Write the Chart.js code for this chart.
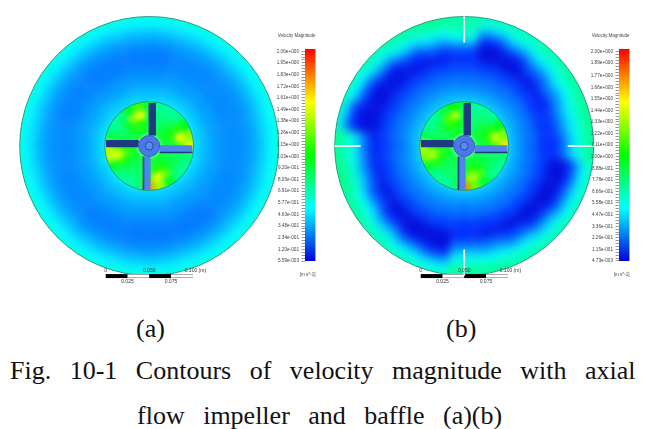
<!DOCTYPE html>
<html>
<head>
<meta charset="utf-8">
<style>
  html, body { margin: 0; padding: 0; background: #fff; width: 656px; height: 429px; overflow: hidden; }
  #page { position: relative; width: 656px; height: 429px; }
  canvas { position: absolute; display: block; }
  .clip { position: absolute; overflow: hidden; }
  .soft { filter: blur(0.4px); }
  .cap { position: absolute; font-family: "Liberation Serif", serif; font-size: 26px; line-height: 30px; color: #111; white-space: pre; }
</style>
<script src="https://cdn.jsdelivr.net/npm/chart.js@4"></script>
</head>
<body>
<div id="page">
  <div class="cap" style="left:136px;top:314px">(a)</div>
  <div class="cap" style="left:446px;top:314px">(b)</div>
  <div class="cap" style="left:10px;top:356px;word-spacing:12px">Fig. 10-1 Contours of velocity magnitude with axial</div>
  <div class="cap" style="left:137px;top:401px;word-spacing:12px">flow impeller and baffle (a)(b)</div>
</div>
<script>
// colour bar labels
const legendLabelsA = ["2.06e+000","1.95e+000","1.83e+000","1.72e+000","1.61e+000","1.49e+000","1.38e+000","1.26e+000","1.15e+000","1.03e+000","9.20e-001","8.05e-001","6.91e-001","5.77e-001","4.63e-001","3.48e-001","2.34e-001","1.20e-001","5.59e-003"];
const legendLabelsB = ["2.00e+000","1.89e+000","1.77e+000","1.66e+000","1.55e+000","1.44e+000","1.33e+000","1.22e+000","1.11e+000","1.00e+000","8.88e-001","7.78e-001","6.66e-001","5.58e-001","4.47e-001","3.36e-001","2.26e-001","1.15e-001","4.73e-003"];

// ring edges (px from the shaft), outer to inner
const tankRings = [145, 125, 118, 111, 104, 95, 85, 73, 60, 50, 38];
const impellerRings = [55, 36, 28, 20, 10];

// velocity magnitude m/s, one row per ring, sectors run clockwise from 12 o'clock
const tankA = [
  [0.56,0.56,0.56,0.57,0.56,0.56,0.56,0.56,0.57,0.56,0.56,0.56],
  [0.49,0.49,0.49,0.50,0.49,0.49,0.48,0.49,0.50,0.49,0.49,0.49],
  [0.41,0.42,0.41,0.42,0.41,0.41,0.40,0.41,0.42,0.42,0.41,0.41],
  [0.34,0.35,0.35,0.36,0.35,0.34,0.33,0.34,0.35,0.35,0.34,0.34],
  [0.28,0.30,0.30,0.31,0.30,0.28,0.27,0.28,0.30,0.30,0.29,0.28],
  [0.24,0.27,0.28,0.28,0.27,0.24,0.24,0.25,0.27,0.28,0.26,0.25],
  [0.26,0.28,0.28,0.28,0.28,0.26,0.26,0.27,0.28,0.28,0.27,0.26],
  [0.31,0.32,0.32,0.32,0.32,0.31,0.31,0.32,0.32,0.32,0.32,0.31],
  [0.37,0.38,0.38,0.38,0.38,0.37,0.37,0.38,0.38,0.38,0.38,0.37],
  [0.44,0.46,0.46,0.46,0.46,0.44,0.44,0.46,0.46,0.46,0.46,0.44]
];
const tankB = [
  [0.68,0.62,0.62,0.66,0.70,0.72,0.72,0.64,0.62,0.64,0.66,0.70,0.72,0.60,0.62,0.66,0.70,0.74,0.72,0.58,0.60,0.64,0.68,0.72],
  [0.66,0.55,0.58,0.60,0.64,0.66,0.66,0.50,0.52,0.56,0.60,0.64,0.66,0.48,0.54,0.58,0.64,0.70,0.66,0.35,0.50,0.56,0.60,0.66],
  [0.62,0.30,0.42,0.47,0.52,0.56,0.55,0.28,0.32,0.40,0.47,0.52,0.55,0.25,0.34,0.42,0.50,0.60,0.58,0.08,0.22,0.36,0.46,0.54],
  [0.50,0.10,0.20,0.30,0.37,0.45,0.42,0.08,0.12,0.20,0.28,0.36,0.42,0.07,0.12,0.22,0.32,0.42,0.45,0.04,0.07,0.12,0.25,0.38],
  [0.22,0.02,0.05,0.15,0.22,0.28,0.22,0.02,0.02,0.05,0.12,0.20,0.22,0.02,0.02,0.06,0.14,0.22,0.22,0.02,0.02,0.03,0.08,0.16],
  [0.08,0.03,0.02,0.04,0.06,0.11,0.08,0.03,0.03,0.02,0.03,0.05,0.08,0.03,0.03,0.03,0.04,0.06,0.06,0.04,0.04,0.04,0.04,0.05],
  [0.13,0.12,0.12,0.12,0.10,0.10,0.10,0.12,0.12,0.12,0.12,0.10,0.10,0.12,0.13,0.13,0.13,0.12,0.12,0.13,0.13,0.13,0.13,0.13],
  [0.22,0.22,0.22,0.23,0.23,0.22,0.21,0.22,0.23,0.23,0.23,0.22,0.21,0.22,0.23,0.23,0.23,0.23,0.21,0.23,0.23,0.23,0.23,0.23],
  [0.30,0.30,0.30,0.31,0.31,0.30,0.29,0.30,0.31,0.31,0.31,0.30,0.29,0.30,0.31,0.31,0.31,0.31,0.29,0.31,0.31,0.31,0.31,0.31],
  [0.40,0.40,0.40,0.40,0.40,0.40,0.40,0.40,0.40,0.40,0.40,0.40,0.40,0.40,0.40,0.40,0.40,0.40,0.40,0.40,0.40,0.40,0.40,0.40]
];
const impellerA = [
  [0.90,0.72,0.72,0.75,1.00,1.30,1.50,0.80,0.72,0.75,0.95,1.35,1.75,0.78,0.72,0.75,0.95,1.40,1.40,0.85,0.72,0.75,0.95,1.15],
  [0.90,0.78,0.80,0.85,1.10,1.55,1.20,0.85,0.85,0.90,1.25,1.50,1.20,0.85,0.80,0.85,1.10,1.50,1.20,0.90,0.80,0.90,1.30,1.55],
  [0.90,0.80,0.85,0.95,1.00,1.10,0.90,0.85,0.90,0.95,1.05,1.10,0.90,0.85,0.85,0.90,1.00,1.20,1.00,0.90,0.85,1.00,1.10,1.05],
  [0.90,0.85,0.90,0.95,0.95,0.95,0.90,0.90,0.90,0.95,0.95,0.95,0.90,0.90,0.90,0.95,0.95,1.00,0.90,0.90,0.90,0.95,1.00,0.95]
];
const impellerB = [
  [0.85,0.70,0.70,0.72,0.95,1.25,1.55,0.78,0.70,0.72,0.90,1.20,1.75,0.76,0.70,0.72,0.90,1.25,1.35,0.82,0.70,0.72,0.85,1.00],
  [0.85,0.75,0.78,0.82,1.05,1.40,1.15,0.82,0.82,0.85,1.15,1.35,1.15,0.82,0.78,0.82,1.05,1.35,1.10,0.85,0.78,0.85,1.15,1.35],
  [0.85,0.78,0.82,0.90,1.00,1.05,0.88,0.82,0.85,0.90,1.00,1.05,0.88,0.82,0.82,0.85,0.95,1.10,0.95,0.85,0.82,0.95,1.05,1.00],
  [0.85,0.82,0.85,0.90,0.90,0.90,0.88,0.85,0.85,0.90,0.90,0.90,0.85,0.85,0.85,0.90,0.90,0.95,0.88,0.85,0.85,0.90,0.95,0.90]
];

// geometry in metres, shaft at 0,0 (one scale bar = 0.100 m)
const pxPerMetre = 870;
const baffleTop = [[0, 0.149], [0, 0.119]];
const baffleRight = [[0.149, 0], [0.119, 0]];
const baffleBottom = [[0, -0.149], [0, -0.119]];
const baffleLeft = [[-0.149, 0], [-0.119, 0]];
const bladeTop = [[0.0035, 0.012], [0.0035, 0.0495]];
const bladeLeft = [[-0.012, 0.0027], [-0.0497, 0.0027]];
const bladeRight = [[0.012, -0.0035], [0.0497, -0.0035]];
const bladeBottom = [[-0.0027, -0.012], [-0.0027, -0.0505]];
const bladeRightEdge = [[0.012, -0.0075], [0.0497, -0.0075]];
const bladeBottomEdge = [[-0.0066, -0.012], [-0.0066, -0.0505]];
const scaleBarY = -0.1495;
const scaleBarBlack = [[[-0.05, scaleBarY], [-0.025, scaleBarY]], [[0, scaleBarY], [0.025, scaleBarY]]];
const scaleBarWhite = [[[-0.025, scaleBarY], [0, scaleBarY]], [[0.025, scaleBarY], [0.05, scaleBarY]]];
const scaleLabels = ["0", "0.025", "0.050", "0.075", "0.100 (m)"];
const scaleLabelX = [-0.05, -0.025, 0, 0.025, 0.05];

const page = document.getElementById("page");

function addCanvas(parent, left, top, w, h) {
  const c = document.createElement("canvas");
  c.width = w;
  c.height = h;
  c.style.left = left + "px";
  c.style.top = top + "px";
  parent.appendChild(c);
  return c;
}

// blue - cyan - green - yellow - red, same as the solver's legend
function velocityColor(v, vMax) {
  const t = Math.min(Math.max(v / vMax, 0), 1) * 4;
  const k = t % 1;
  let rgb;
  if (t < 1) rgb = [0, 255 * k, 205 + 50 * Math.min(k * 6, 1)];
  else if (t < 2) rgb = [0, 255, 255 * (1 - k)];
  else if (t < 3) rgb = [255 * k, 255, 0];
  else rgb = [255, 255 * (1 - k), 0];
  return `rgb(${rgb.map(Math.round).join(",")})`;
}

// contour field = stacked doughnut rings, softened by css blur and cut to the wall
function addField(cx, cy, clipR, rings, table, vMax, blur) {
  const wrap = document.createElement("div");
  wrap.className = "clip";
  wrap.style.cssText = `left:${cx - clipR}px;top:${cy - clipR}px;width:${clipR * 2}px;height:${clipR * 2}px;clip-path:circle(${clipR}px);`;
  page.appendChild(wrap);
  const size = rings[0] * 2 + 10;
  const canvas = addCanvas(wrap, clipR - size / 2, clipR - size / 2, size, size);
  canvas.style.filter = `blur(${blur}px)`;
  new Chart(canvas, {
    type: "doughnut",
    data: {
      datasets: table.map((row, i) => ({
        data: row.map(() => 1),
        backgroundColor: row.map((v) => velocityColor(v, vMax)),
        borderWidth: 0,
        rotation: -180 / row.length,
        weight: rings[i] - rings[i + 1],
      })),
    },
    options: {
      responsive: false,
      animation: false,
      radius: rings[0],
      cutout: (rings[table.length] / rings[0]) * 100 + "%",
      plugins: { legend: { display: false }, tooltip: { enabled: false } },
    },
  });
}

function line(points, color, width) {
  return {
    data: points.map((p) => ({ x: p[0], y: p[1] })),
    showLine: true,
    borderColor: color,
    borderWidth: width,
    pointRadius: 0,
    borderCapStyle: "butt",
  };
}

function circle(radius, fill, stroke, width) {
  return {
    data: [{ x: 0, y: 0 }],
    pointRadius: radius,
    pointBackgroundColor: fill,
    pointBorderColor: stroke,
    pointBorderWidth: width,
    clip: false,
  };
}

const scaleTextPlugin = {
  id: "scaleText",
  afterDraw(chart) {
    const { ctx, scales } = chart;
    const topY = scales.y.getPixelForValue(scaleBarY) - 5;
    ctx.save();
    ctx.font = "5px 'Liberation Sans'";
    ctx.fillStyle = "#333";
    ctx.textBaseline = "middle";
    scaleLabels.forEach((label, i) => {
      const x = scales.x.getPixelForValue(scaleLabelX[i]);
      const lower = i % 2 === 1;
      ctx.textAlign = i === 4 ? "left" : "center";
      ctx.fillText(label, i === 4 ? x - 8 : x, lower ? topY + 11 : topY);
    });
    ctx.restore();
  },
};

function addStructure(left, cx, cy, baffles) {
  const w = 320, h = 300;
  const canvas = addCanvas(page, left, 0, w, h);
  canvas.className = "soft";
  const walls = baffles
    ? [line(baffleTop, "#f4f8f8", 1.8), line(baffleRight, "#f4f8f8", 1.8), line(baffleBottom, "#f4f8f8", 1.8), line(baffleLeft, "#f4f8f8", 1.8)]
    : [];
  // chart.js paints the last dataset first, so this list runs bottom to top and gets reversed
  const layers = [
    circle(129.5, "transparent", "#2a9a8a", 1),
    circle(44.5, "transparent", "#1f9a80", 1),
    line(bladeTop, "#1e3a80", 7.4),
    line(bladeLeft, "#1e3a80", 7.4),
    line(bladeRight, "#4f86ea", 7.4),
    line(bladeBottom, "#4f86ea", 7.4),
    line(bladeRightEdge, "#1e3a80", 1.4),
    line(bladeBottomEdge, "#1e3a80", 1.6),
    circle(10.5, "#4a78e8", "#3560c8", 1),
    circle(4, "#5a8aee", "#2a4fa8", 1),
    line(scaleBarWhite[0], "#888", 4),
    line(scaleBarWhite[1], "#888", 4),
    line(scaleBarWhite[0], "#fff", 2.6),
    line(scaleBarWhite[1], "#fff", 2.6),
    line(scaleBarBlack[0], "#000", 4),
    line(scaleBarBlack[1], "#000", 4),
  ].concat(walls);
  new Chart(canvas, {
    type: "scatter",
    data: { datasets: layers.reverse() },
    options: {
      responsive: false,
      animation: false,
      layout: { padding: 0, autoPadding: false },
      scales: {
        x: { display: false, min: (0 - (cx - left)) / pxPerMetre, max: (w - (cx - left)) / pxPerMetre },
        y: { display: false, min: (cy - h) / pxPerMetre, max: cy / pxPerMetre },
      },
      plugins: { legend: { display: false }, tooltip: { enabled: false } },
    },
    plugins: [scaleTextPlugin],
  });
}

function addColorBar(left, labels, vMin, vMax, barMax) {
  const w = 54, h = 270, top = 20, axisWidth = 37;
  const canvas = addCanvas(page, left, top, w, h);
  canvas.className = "soft";
  const values = labels.map(Number);
  const minorTicks = [];
  values.forEach((v, i) => {
    if (i === 0) return;
    const prev = values[i - 1];
    [0.25, 0.5, 0.75].forEach((f) => minorTicks.push(prev + (v - prev) * f));
  });
  new Chart(canvas, {
    type: "bar",
    data: {
      labels: ["Velocity Magnitude"],
      datasets: [{
        data: [[vMin, barMax]],
        barPercentage: 1,
        categoryPercentage: 1,
        backgroundColor(ctx) {
          const area = ctx.chart.chartArea;
          if (!area) return "#0f0";
          const g = ctx.chart.ctx.createLinearGradient(0, area.bottom, 0, area.top);
          ["#0000e0", "#00ffff", "#00ff00", "#ffff00", "#ff0000"].forEach((c, i) => g.addColorStop(i / 4, c));
          return g;
        },
      }],
    },
    options: {
      responsive: false,
      animation: false,
      layout: { padding: { top: 29, bottom: 29, left: 0, right: w - axisWidth - 10.5 } },
      scales: {
        x: { display: false },
        y: {
          min: vMin,
          max: barMax,
          afterFit(scale) { scale.width = axisWidth; },
          afterBuildTicks(scale) {
            scale.ticks = values.concat(minorTicks).map((value) => ({ value }));
          },
          border: { display: false },
          grid: { drawOnChartArea: false, drawTicks: true, tickLength: 3.5, color: "#999" },
          ticks: {
            autoSkip: false,
            padding: 2.5,
            maxRotation: 0,
            color: "#444",
            font: { size: 4.7, family: "'Liberation Sans'" },
            callback(v) { const i = values.indexOf(v); return i >= 0 ? labels[i] : ""; },
          },
        },
      },
      plugins: { legend: { display: false }, tooltip: { enabled: false } },
    },
    plugins: [{
      id: "barText",
      afterDraw(chart) {
        const { ctx, chartArea } = chart;
        ctx.save();
        ctx.font = "4.5px 'Liberation Sans'";
        ctx.fillStyle = "#444";
        ctx.textAlign = "right";
        ctx.textBaseline = "middle";
        ctx.fillText("Velocity Magnitude", chartArea.right, 16);
        ctx.fillText("[m s^-1]", chartArea.right, 255);
        ctx.restore();
      },
    }],
  });
}

// (a)
addField(149.2, 146, 129.5, tankRings, tankA, 2.06, 4);
addField(149.2, 146, 44.5, impellerRings, impellerA, 2.06, 2.5);
addStructure(0, 149.2, 146, false);
addColorBar(268, legendLabelsA, 0.0056, 2.06, 2.085);

// (b)
addField(464.2, 146, 129.5, tankRings, tankB, 2.0, 5);
addField(464.2, 146, 44.5, impellerRings, impellerB, 2.0, 2.5);
addStructure(300, 464.2, 146, true);
addColorBar(582, legendLabelsB, 0.0047, 2.0, 2.025);
</script>
</body>
</html>
